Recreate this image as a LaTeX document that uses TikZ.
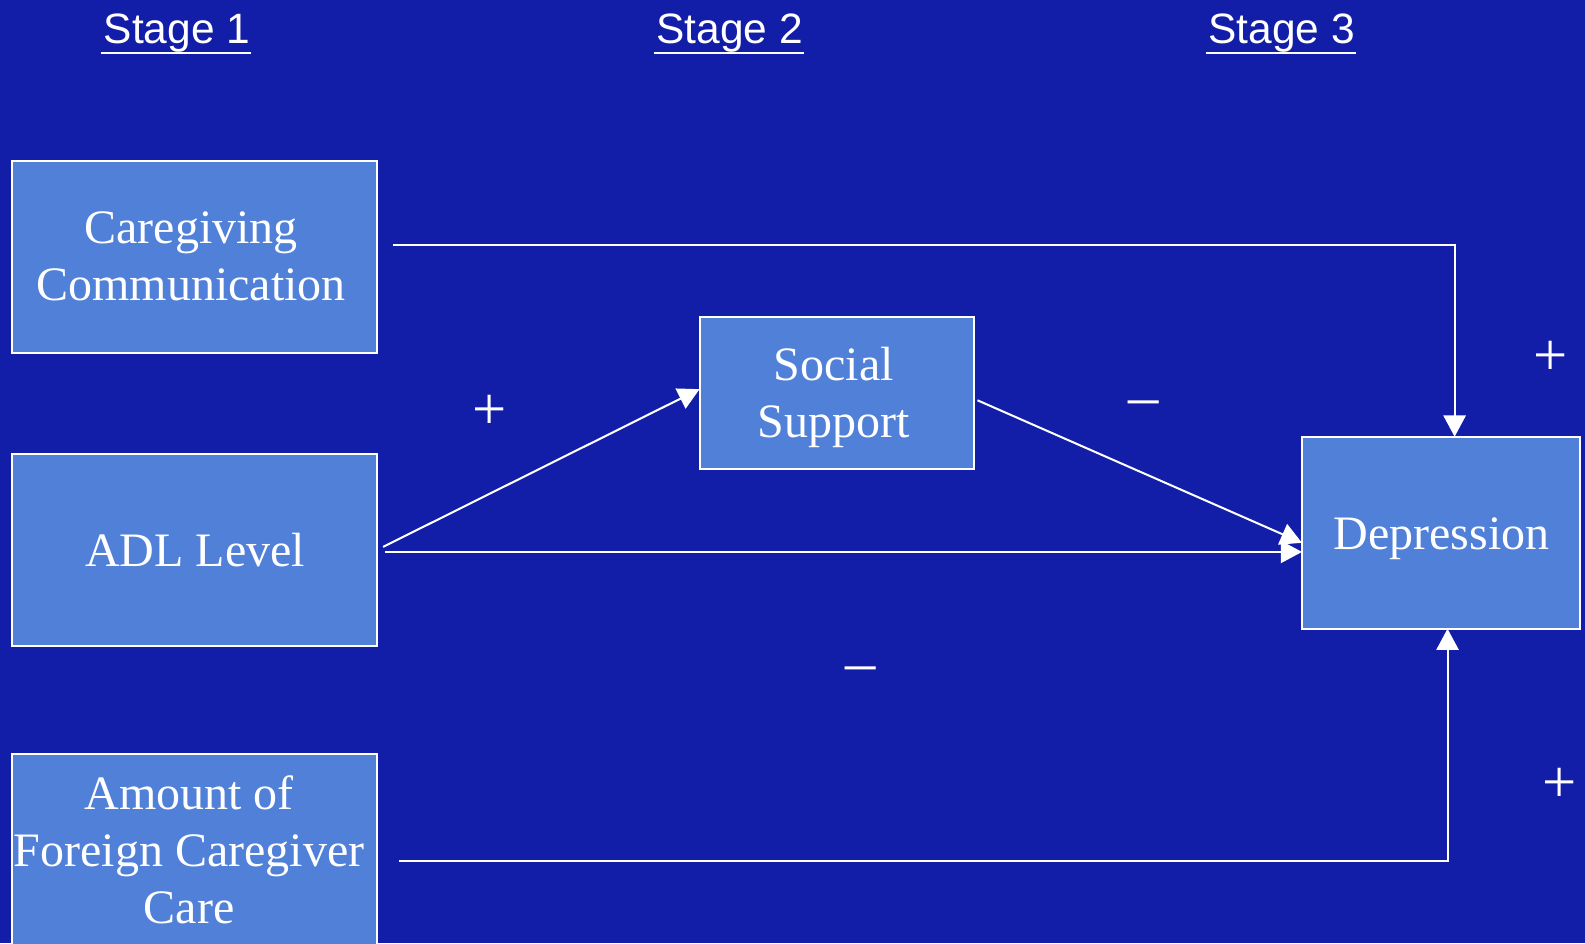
\documentclass[tikz,border=0pt]{standalone}
\usepackage{fontspec}
\setmainfont{Liberation Serif}
\newfontfamily\stagefont{Liberation Sans}
\usetikzlibrary{arrows.meta}
\definecolor{bgblue}{RGB}{19,30,168}
\definecolor{boxblue}{RGB}{80,128,216}
\begin{document}
\begin{tikzpicture}[x=1pt,y=-1pt,
  box/.style={draw=white, fill=boxblue, line width=2pt, inner sep=0pt, outer sep=0pt},
  txt/.style={text=white, align=center, inner sep=0pt, font=\fontsize{47.5}{56.5}\selectfont},
  stagelbl/.style={text=white, inner sep=0pt, anchor=base, font=\stagefont\fontsize{42}{48}\selectfont},
  uline/.style={draw=white, line width=2pt},
  conn/.style={draw=white, line width=2pt},
  arr/.style={conn, -{Triangle[length=21pt,width=22pt]}},
  sign/.style={text=white, inner sep=0pt, font=\fontsize{60}{60}\selectfont}]
\fill[bgblue] (0,0) rectangle (1568,932.9);
\useasboundingbox (0,0) rectangle (1568,932.9);

% stage headings
\node[stagelbl] (s1) at (175,43) {Stage 1};
\node[stagelbl] (s2) at (722,43) {Stage 2};
\node[stagelbl] (s3) at (1268,43) {Stage 3};
\foreach \s in {s1,s2,s3}
  \draw[uline] ([yshift=-9.5pt,xshift=-2pt]\s.base west) -- ([yshift=-9.5pt,xshift=1pt]\s.base east);

% boxes
\node[box, minimum width=361pt, minimum height=190pt] (cg) at (192.5,254) {};
\node[box, minimum width=361pt, minimum height=190pt] (adl) at (192.5,544) {};
\node[box, minimum width=361pt, minimum height=218pt] (amt) at (192.5,855) {};
\node[box, minimum width=272pt, minimum height=150pt] (ss) at (828,389) {};
\node[box, minimum width=275pt, minimum height=190pt] (dep) at (1425.5,527) {};

% texts
\node[txt] (cgt) at (189,254) {Caregiving\\Communication};
\node[txt] (adlt) at (193,544) {ADL Level};
\node[txt] (amtt) at (187,841) {Amount of\\Foreign Caregiver\\Care};
\node[txt] (sst) at (825,393) {Social\\Support};
\node[txt] (dept) at (1426,533) {Depression};

% connectors
\coordinate (cgs) at (389,242);
\coordinate (cgc) at (1439,242);
\draw[arr] (cgs) -- (cgc) -- (cgc |- dep.north);

\coordinate (adls1) at (379,541);
\draw[arr] (adls1) -- ([yshift=4pt]ss.west);

\coordinate (sss) at (967,396);
\draw[arr] (sss) -- ([yshift=-10pt]dep.west);

\coordinate (adls2) at (381,546);
\draw[arr] (adls2) -- (adls2 -| dep.west);

\coordinate (amts) at (395,852);
\coordinate (amtc) at (1432,852);
\draw[arr] (amts) -- (amtc) -- (amtc |- dep.south);

% signs
\node[sign] (p1) at (484,408) {+};
\node[sign] (m1) at (1131,404) {–};
\node[sign] (p2) at (1534,355) {+};
\node[sign] (m2) at (851,667) {–};
\node[sign] (p3) at (1543,777) {+};
\end{tikzpicture}
\end{document}
